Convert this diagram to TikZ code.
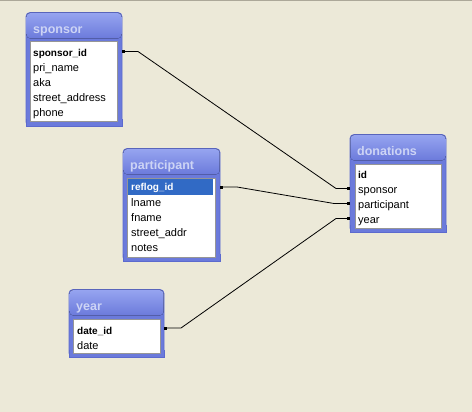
\documentclass[tikz,border=0pt]{standalone}
\usepackage{fontspec}
\setmainfont{Liberation Sans}
\usetikzlibrary{arrows.meta}
\definecolor{bg}{RGB}{236,233,216}
\definecolor{topbar}{RGB}{172,168,153}
\definecolor{frameblue}{RGB}{107,122,219}
\definecolor{framelight}{RGB}{150,164,240}
\definecolor{frameedge}{RGB}{92,106,206}
\definecolor{titletext}{RGB}{205,212,245}
\definecolor{selblue}{RGB}{49,106,197}
\definecolor{paneledge}{RGB}{150,150,150}
\tikzset{
  tableframe/.style={draw=frameedge, fill=frameblue, line width=0.8pt, rounded corners=4pt,
    inner sep=0pt, outer sep=0pt, anchor=north west},
  panelbox/.style={draw=paneledge, fill=white, line width=0.8pt, inner sep=0pt, outer sep=0pt, anchor=north west},
  tabletitle/.style={anchor=west, inner sep=0pt, text=titletext, text height=9pt, text depth=3pt,
    font=\bfseries\fontsize{12.5}{14}\selectfont},
  rowtext/.style={anchor=west, inner sep=0pt, text height=7.5pt, text depth=2.5pt, font=\fontsize{11}{13}\selectfont},
  keyrow/.style={rowtext, font=\bfseries\fontsize{10}{13}\selectfont},
  link/.style={draw=black, line width=0.8pt, {Square[length=3pt,width=3pt]}-{Square[length=3pt,width=3pt]}},
}
% name, x1, y1, width, height, title
\newcommand\dbframe[6]{%
  \node[tableframe, minimum width=#4pt, minimum height=#5pt] (#1) at (#2,#3) {};
  \fill[top color=framelight, bottom color=frameblue, rounded corners=4pt]
    ([shift={(0.4pt,-0.4pt)}]#1.north west) rectangle ([shift={(-0.4pt,-26pt)}]#1.north east);
  \fill[frameblue] ([shift={(0.4pt,7pt)}]#1.south west) rectangle ([shift={(-0.4pt,0.4pt)}]#1.south east);
  \draw[frameedge, line width=0.8pt] ([yshift=7pt]#1.south west) |- (#1.south east) -- ([yshift=7pt]#1.south east);
  \node[tabletitle] (#1-title) at ([shift={(7pt,-18pt)}]#1.north west) {#6};
}
\begin{document}
\begin{tikzpicture}[x=1pt,y=-1pt]
\useasboundingbox (0,0) rectangle (472,412);
\fill[bg] (0,0) rectangle (472,412);
\fill[topbar] (0,0) rectangle (472,1.5);

% sponsor
\dbframe{sponsor}{26}{12.5}{96}{113.5}{sponsor}
\node[panelbox, minimum width=87pt, minimum height=79.5pt] (sponsor-panel) at (30.5,41.5) {};
\node[keyrow] (sponsor-1) at (33,54) {sponsor\_id};
\node[rowtext] (sponsor-2) at (33,69) {pri\_name};
\node[rowtext] (sponsor-3) at (33,84) {aka};
\node[rowtext] (sponsor-4) at (33,99) {street\_address};
\node[rowtext] (sponsor-5) at (33,114) {phone};

% participant
\dbframe{participant}{123}{148.5}{97}{112.5}{participant}
\node[panelbox, minimum width=88.5pt, minimum height=79pt] (participant-panel) at (127.2,178) {};
\fill[selblue] (127.8,179) rectangle (213,194.5);
\node[keyrow, text=white] (participant-1) at (131,188) {reflog\_id};
\node[rowtext] (participant-2) at (131,204) {lname};
\node[rowtext] (participant-3) at (131,219) {fname};
\node[rowtext] (participant-4) at (131,234) {street\_addr};
\node[rowtext] (participant-5) at (131,249) {notes};

% donations
\dbframe{donations}{350}{134.5}{96}{97.5}{donations}
\node[panelbox, minimum width=86pt, minimum height=64pt] (donations-panel) at (355,164) {};
\node[keyrow] (donations-1) at (358,176) {id};
\node[rowtext] (donations-2) at (358,191) {sponsor};
\node[rowtext] (donations-3) at (358,206) {participant};
\node[rowtext] (donations-4) at (358,221) {year};

% year
\dbframe{year}{69}{289.5}{95}{67.5}{year}
\node[panelbox, minimum width=87pt, minimum height=34pt] (year-panel) at (73,319.5) {};
\node[keyrow] (year-1) at (77,332) {date\_id};
\node[rowtext] (year-2) at (77,346.5) {date};

% ports
\coordinate (sponsor-p1) at (sponsor.east |- 0,51.5);
\coordinate (participant-p1) at (participant.east |- 0,187);
\coordinate (year-p1) at (year.east |- 0,328);
\coordinate (donations-p2) at (donations.west |- 0,188.5);
\coordinate (donations-p3) at (donations.west |- 0,203.5);
\coordinate (donations-p4) at (donations.west |- 0,218.5);

% connectors
\draw[link] (sponsor-p1) -- ++(16,0) -- ([xshift=-14pt]donations-p2) -- (donations-p2);
\draw[link] (participant-p1) -- ++(17,0) -- ([xshift=-16pt]donations-p3) -- (donations-p3);
\draw[link] (year-p1) -- ++(17,0) -- ([xshift=-14pt]donations-p4) -- (donations-p4);
\end{tikzpicture}
\end{document}
